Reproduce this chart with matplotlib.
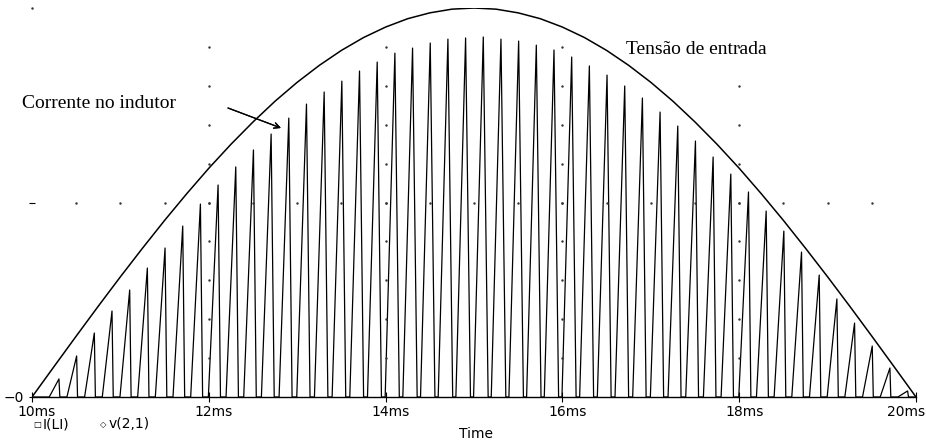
import numpy as np
import matplotlib
matplotlib.use("Agg")
import matplotlib.pyplot as plt
from matplotlib.transforms import ScaledTranslation

# --- dados (tempo em ms, amplitude em unidades arbitrarias)
env_t = np.arange(10.0, 20.001, 0.25)
env_v = [0, 15.7, 31.3, 46.7, 61.8, 76.5, 90.8, 104.5, 117.6, 129.9,
         141.4, 152.1, 161.8, 170.5, 178.2, 184.8, 190.2, 194.5, 197.5, 199.4,
         200, 199.4, 197.5, 194.5, 190.2, 184.8, 178.2, 170.5, 161.8, 152.1,
         141.4, 129.9, 117.6, 104.5, 90.8, 76.5, 61.8, 46.7, 31.3, 15.7, 0]

# picos da corrente no indutor, um por periodo de chaveamento (0.2 ms)
pulse_t = 10.305 + 0.2 * np.arange(49)
pulse_pk = [9.3, 21.1, 32.9, 44.2, 55.0, 66.3, 76.6, 87.9, 99.2, 109.0,
            118.3, 127.0, 135.2, 143.4, 150.6, 156.8, 162.4, 167.6, 172.2, 176.8,
            179.4, 182.0, 184.0, 184.6, 185.1, 184.0, 183.0, 180.9, 178.4, 174.8,
            170.2, 165.5, 159.9, 153.7, 146.5, 139.3, 131.6, 123.4, 114.6, 105.4,
            95.6, 85.3, 74.5, 62.7, 50.4, 38.0, 26.2, 14.9, 3.1]
pulse_fall = [0.010, 0.010, 0.012, 0.014, 0.016, 0.018, 0.020, 0.022, 0.025, 0.027,
              0.030, 0.032, 0.035, 0.037, 0.040, 0.042, 0.044, 0.046, 0.048, 0.050,
              0.052, 0.053, 0.054, 0.055, 0.055, 0.055, 0.054, 0.053, 0.052, 0.050,
              0.048, 0.046, 0.044, 0.042, 0.040, 0.037, 0.035, 0.032, 0.030, 0.027,
              0.025, 0.022, 0.020, 0.018, 0.016, 0.014, 0.012, 0.010, 0.010]
t_rise = 0.11

x_ticks = [10, 12, 14, 16, 18, 20]
x_labels = ["10ms", "12ms", "14ms", "16ms", "18ms", "20ms"]

W, H = 926, 445

def fx(px):
    return px / W

def fy(py):
    return 1 - py / H

fig = plt.figure(figsize=(W / 100, H / 100), dpi=100)
ax = fig.add_axes([fx(32), fy(397), fx(916) - fx(32), fy(8) - fy(397)])

# corrente no indutor (dente de serra)
ti = [10.0]
ii = [0.0]
for tp, pk, tf in zip(pulse_t, pulse_pk, pulse_fall):
    ti += [tp - t_rise, tp, tp + tf]
    ii += [0.0, pk, 0.0]
ti.append(20.0)
ii.append(0.0)
ax.plot(ti, ii, color="black", lw=0.9)

# tensao de entrada
ax.plot(env_t, env_v, color="black", lw=1.1)

# grade pontilhada estilo PSpice
for xg in x_ticks[1:-1]:
    ax.plot([xg] * 9, np.arange(20, 181, 20), ls="none", marker="s", ms=0.7, color="0.2")
ax.plot(np.arange(10.5, 20.0, 0.5), [100] * 19, ls="none", marker="s", ms=0.7, color="0.2")
ax.plot([10], [200], ls="none", marker="s", ms=0.7, color="0.2", clip_on=False)

ax.set_xlim(10, 20)
ax.set_ylim(0, 200)
for s in ["top", "right", "left"]:
    ax.spines[s].set_visible(False)
ax.spines["bottom"].set_linewidth(1.0)
ax.set_xticks(x_ticks)
ax.set_xticklabels(x_labels, fontsize=10)
ax.set_yticks([0, 100])
ax.set_yticklabels(["\u22120", ""], fontsize=10)
ax.tick_params(axis="x", direction="inout", length=7, width=0.8, pad=2)
ax.tick_params(axis="y", direction="inout", length=5, width=0.8, pad=3)

# rotulos levemente deslocados como no PSpice; o ultimo fica dentro da figura
shift = ScaledTranslation(5 / 100, 0, fig.dpi_scale_trans)
labs = ax.get_xticklabels()
for lab in labs[:-1]:
    lab.set_transform(lab.get_transform() + shift)
labs[-1].set_ha("right")
labs[-1].set_transform(labs[-1].get_transform() + ScaledTranslation(9 / 100, 0, fig.dpi_scale_trans))

# eixo e legenda
fig.text(fx(476), fy(434), "Time", ha="center", va="center", fontsize=10)
fig.text(fx(37), fy(425), "\u25a1", ha="center", va="center", fontsize=6)
fig.text(fx(43), fy(424), "I(LI)", ha="left", va="center", fontsize=10)
fig.text(fx(103), fy(425), "\u25c7", ha="center", va="center", fontsize=6)
fig.text(fx(109), fy(424), "v(2,1)", ha="left", va="center", fontsize=10)

# anotacoes
fig.text(fx(22), fy(103), "Corrente no indutor", ha="left", va="center",
         fontsize=14, family="Liberation Serif")
fig.text(fx(626), fy(50), "Tens\u00e3o de entrada", ha="left", va="center",
         fontsize=14, family="Liberation Serif")
fig.add_artist(plt.annotate("", xy=(fx(281), fy(128)), xytext=(fx(228), fy(108)),
                            xycoords="figure fraction", textcoords="figure fraction",
                            arrowprops=dict(arrowstyle="->", lw=0.9, color="black",
                                            shrinkA=0, shrinkB=0)))

fig.savefig("out.png", dpi=100)
